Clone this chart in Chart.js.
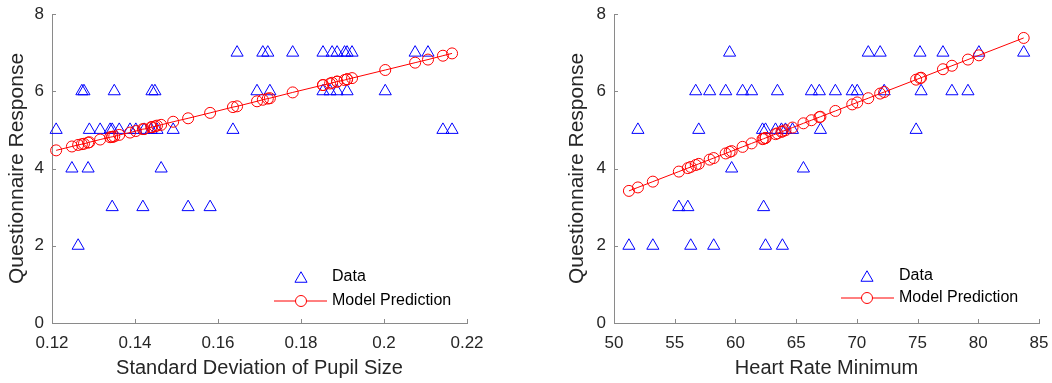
<!DOCTYPE html>
<html><head><meta charset="utf-8">
<script src="https://cdn.jsdelivr.net/npm/chart.js@4.4.1/dist/chart.umd.min.js"></script>
<style>
html,body{margin:0;padding:0;background:#fff;width:1052px;height:383px;overflow:hidden}
canvas{position:absolute;top:0}
#c1{left:0}
#c2{left:560px}
</style></head><body>
<canvas id="c1" width="530" height="383"></canvas>
<canvas id="c2" width="492" height="383"></canvas>
<script>
// ---- Left panel: Standard Deviation of Pupil Size ----
const pupilSd = [0.121,0.1248,0.1263,0.1272,0.1277,0.1287,0.129,0.1316,0.134,0.1345,0.1345,0.135,0.1362,0.1388,0.1402,0.1419,0.1422,0.1439,0.1441,0.1448,0.1453,0.1463,0.1492,0.1528,0.1581,0.1636,0.1646,0.1694,0.1708,0.172,0.1725,0.178,0.1853,0.1853,0.187,0.1875,0.1887,0.1887,0.1905,0.1911,0.1911,0.1923,0.2003,0.2075,0.2106,0.2142,0.2164];
const pupilResp = [5,4,2,6,6,4,5,5,5,3,5,6,5,5,5,3,5,5,6,6,5,4,5,3,3,5,7,6,7,7,6,7,6,7,6,7,6,7,7,6,7,7,6,7,7,5,5];
const pupilPred = [4.47,4.57,4.61,4.63,4.64,4.67,4.68,4.75,4.81,4.82,4.82,4.83,4.87,4.93,4.97,5.02,5.02,5.07,5.07,5.09,5.11,5.13,5.21,5.30,5.44,5.59,5.61,5.74,5.78,5.81,5.82,5.97,6.16,6.16,6.20,6.22,6.25,6.25,6.29,6.31,6.31,6.34,6.55,6.74,6.82,6.92,6.98];
const pupilTicks = [0.12,0.14,0.16,0.18,0.2,0.22];
const pupilTickLabels = ['0.12','0.14','0.16','0.18','0.2','0.22'];

// ---- Right panel: Heart Rate Minimum ----
const hrMin = [51.23,51.97,53.2,55.34,56.08,56.32,56.73,56.98,57.88,58.21,59.2,59.52,59.69,60.59,61.33,62.23,62.32,62.48,62.48,63.3,63.46,63.79,63.87,64.12,64.7,65.6,66.26,66.91,67.0,68.23,69.62,70.03,70.94,71.92,72.25,74.88,75.2,75.29,77.09,77.83,79.15,80.05,83.74];
const hrResp = [2,5,2,3,3,2,6,5,6,2,6,7,4,6,6,5,3,5,2,5,6,5,2,5,5,4,6,6,5,6,6,6,7,7,6,5,7,6,7,6,6,7,7];
const hrPred = [3.42,3.51,3.66,3.92,4.01,4.04,4.09,4.12,4.23,4.27,4.39,4.43,4.45,4.56,4.65,4.76,4.77,4.79,4.79,4.89,4.91,4.95,4.96,4.99,5.06,5.17,5.25,5.33,5.34,5.49,5.66,5.71,5.82,5.94,5.98,6.30,6.34,6.35,6.57,6.66,6.82,6.93,7.38];
const hrTicks = [50,55,60,65,70,75,80,85];
const hrTickLabels = ['50','55','60','65','70','75','80','85'];

const yTicks = [0,2,4,6,8];
const yTickLabels = ['0','2','4','6','8'];
const legendLabels = ['Data','Model Prediction'];
const yTitle = 'Questionnaire Response';

Chart.defaults.font.family = "'Liberation Sans', Arial, sans-serif";
const TXT = '#262626';
const AX = '#8a8a8a';
const BLUE = 'rgb(0,0,255)';
const RED = 'rgb(255,0,0)';

function triPath(ctx, x, y, r){
  ctx.beginPath();
  ctx.moveTo(x, y - r);
  ctx.lineTo(x + Math.sin(2*Math.PI/3)*r, y - Math.cos(2*Math.PI/3)*r);
  ctx.lineTo(x + Math.sin(4*Math.PI/3)*r, y - Math.cos(4*Math.PI/3)*r);
  ctx.closePath();
}

const decor = {
  id:'decor',
  afterDraw(chart, args, o){
    const ctx = chart.ctx, ca = chart.chartArea, xs = chart.scales.x, ys = chart.scales.y;
    ctx.save();
    // inward tick marks
    ctx.strokeStyle = AX; ctx.lineWidth = 1;
    ctx.beginPath();
    xs.ticks.forEach(t=>{const p = Math.round(xs.getPixelForValue(t.value)) + 0.5; ctx.moveTo(p, ca.bottom); ctx.lineTo(p, ca.bottom - 4);});
    ys.ticks.forEach(t=>{const p = Math.round(ys.getPixelForValue(t.value)) + 0.5; ctx.moveTo(ca.left, p); ctx.lineTo(ca.left + 4, p);});
    ctx.stroke();
    // legend
    const sx = ca.right + o.symDx, tx = ca.right + o.textDx;
    const y1 = ca.bottom + o.row1Dy, y2 = ca.bottom + o.row2Dy;
    ctx.strokeStyle = BLUE; ctx.lineWidth = 1;
    triPath(ctx, sx, y1 + 1.75, 7); ctx.stroke();
    ctx.strokeStyle = RED;
    ctx.beginPath(); ctx.moveTo(ca.right + o.lineX0, y2); ctx.lineTo(ca.right + o.lineX1, y2); ctx.stroke();
    ctx.fillStyle = '#fff';
    ctx.beginPath(); ctx.arc(sx, y2, 5.5, 0, Math.PI*2); ctx.fill(); ctx.stroke();
    ctx.fillStyle = '#000';
    ctx.font = "16px 'Liberation Sans', Arial, sans-serif";
    ctx.textBaseline = 'middle'; ctx.textAlign = 'left';
    ctx.fillText(legendLabels[0], tx, y1);
    ctx.fillText(legendLabels[1], tx, y2);
    ctx.restore();
  }
};

function makeChart(id, xs, ys, preds, xmin, xmax, ticks, tickLabels, xTitle, yWidth, padRight, leg){
  const ctx = document.getElementById(id);
  return new Chart(ctx, {
    type:'scatter',
    data:{datasets:[
      {label:legendLabels[0], data: xs.map((x,i)=>({x, y: ys[i]})), showLine:false,
       pointStyle:'triangle', pointRadius:7, pointHoverRadius:7, borderColor:BLUE, backgroundColor:'rgba(0,0,0,0)', borderWidth:1, order:2, clip:false},
      {label:legendLabels[1], data: xs.map((x,i)=>({x, y: preds[i]})), showLine:true,
       pointStyle:'circle', pointRadius:5.5, pointHoverRadius:5.5, borderColor:RED, pointBorderColor:RED, backgroundColor:'rgba(0,0,0,0)', pointBackgroundColor:'rgba(0,0,0,0)', borderWidth:1, pointBorderWidth:1, tension:0, order:1, clip:false}
    ]},
    options:{
      responsive:false, animation:false, devicePixelRatio:1,
      layout:{padding:{top:14, right:padRight, left:0, bottom:0}},
      plugins:{legend:{display:false}, tooltip:{enabled:false}, decor:leg},
      scales:{
        x:{type:'linear', min:xmin, max:xmax,
          afterBuildTicks:s=>{s.ticks = ticks.map(v=>({value:v}));},
          afterFit:s=>{s.height = 60; s.paddingLeft = 0; s.paddingRight = 0;},
          ticks:{callback:(v,i)=>tickLabels[i], font:{size:17}, color:TXT, padding:10, maxRotation:0, autoSkip:false},
          grid:{drawOnChartArea:false, drawTicks:false},
          border:{color:AX, width:1},
          title:{display:true, text:xTitle, font:{size:20}, color:TXT, padding:{top:0,bottom:3}}
        },
        y:{type:'linear', min:0, max:8,
          afterBuildTicks:s=>{s.ticks = yTicks.map(v=>({value:v}));},
          afterFit:s=>{s.width = yWidth; s.paddingTop = 0; s.paddingBottom = 0;},
          ticks:{callback:(v,i)=>yTickLabels[i], font:{size:17}, color:TXT, padding:8},
          grid:{drawOnChartArea:false, drawTicks:false},
          border:{color:AX, width:1},
          title:{display:true, text:yTitle, font:{size:21}, color:TXT, padding:{top:5,bottom:0}}
        }
      }
    },
    plugins:[decor]
  });
}

makeChart('c1', pupilSd, pupilResp, pupilPred, 0.12, 0.22, pupilTicks, pupilTickLabels,
  'Standard Deviation of Pupil Size', 52, 63,
  {symDx:-166, textDx:-135, row1Dy:-46, row2Dy:-22, lineX0:-193, lineX1:-140});
makeChart('c2', hrMin, hrResp, hrPred, 50, 85, hrTicks, hrTickLabels,
  'Heart Rate Minimum', 54, 13,
  {symDx:-172, textDx:-140, row1Dy:-47, row2Dy:-25, lineX0:-198, lineX1:-145});
</script>
</body></html>
